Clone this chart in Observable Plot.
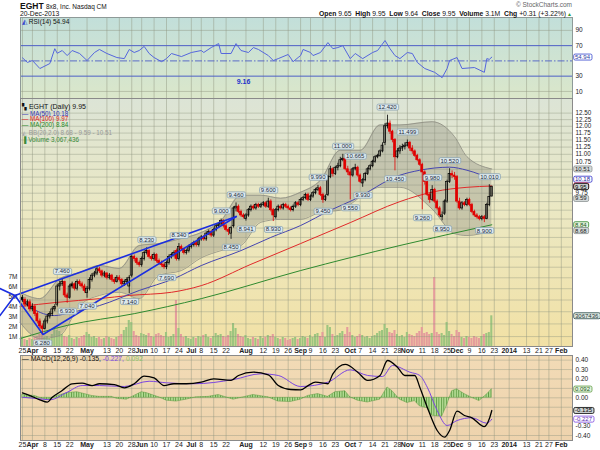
<!DOCTYPE html>
<html>
<head>
<meta charset="utf-8">
<script src="https://cdn.jsdelivr.net/npm/d3@7"></script>
<script src="https://cdn.jsdelivr.net/npm/@observablehq/plot@0.6"></script>
<style>
  html,body{margin:0;padding:0;background:#ffffff;}
  #wrap{position:relative;width:600px;height:450px;overflow:hidden;font-family:Arial,"Liberation Sans",Helvetica,sans-serif;font-size:7px;}
  #wrap svg{position:absolute;left:0;}
  .t{position:absolute;white-space:nowrap;line-height:1;color:#111;}
</style>
</head>
<body>
<div id="wrap"></div>
<script>
// ---------------- DATA ----------------
// trading-day index 0 = 25-Mar-2013 ... 189 = 20-Dec-2013
const closes = [7.00,6.90,6.95,6.80,6.85,6.70,6.55,6.45,6.40,6.55,
 6.65,6.70,6.80,6.85,7.30,7.35,7.40,7.10,7.05,7.30,
 7.35,7.25,7.40,7.35,7.30,7.20,7.25,7.45,7.55,7.60,
 7.70,7.65,7.55,7.60,7.50,7.55,7.45,7.40,7.50,7.45,
 7.35,7.40,7.45,7.50,8.00,7.95,7.85,7.80,7.95,8.10,
 8.15,8.00,7.95,8.05,7.90,7.85,7.80,7.75,7.85,8.00,
 8.05,8.10,7.95,8.25,8.20,8.10,8.15,8.25,8.30,8.35,
 8.30,8.45,8.50,8.45,8.60,8.65,8.55,8.70,8.80,8.85,
 8.95,8.80,8.70,8.65,8.75,9.30,9.35,9.20,9.10,9.05,
 9.10,9.25,9.35,9.30,9.40,9.35,9.40,9.45,9.35,9.50,
 9.25,9.10,9.25,9.35,9.30,9.40,9.35,9.30,9.25,9.35,
 9.45,9.40,9.55,9.60,9.70,9.55,9.65,9.75,9.85,9.90,
 9.70,9.55,9.65,10.25,10.50,10.35,10.55,10.60,10.80,10.85,
 10.50,10.40,10.30,10.50,10.55,10.30,10.10,10.15,10.35,10.50,
 10.60,10.75,10.90,10.95,11.10,11.30,12.00,12.10,11.80,11.50,
 10.90,11.10,11.20,11.25,11.30,11.40,11.20,11.10,10.95,10.80,
 10.65,10.40,10.10,9.70,9.55,9.85,9.50,9.30,9.10,9.10,
 9.50,10.10,10.35,10.30,10.25,9.50,9.30,9.45,9.40,9.55,
 9.40,9.20,9.10,9.05,9.00,9.05,9.00,9.40,9.64,9.95];
const opens = [7.05,7.00,6.90,6.95,6.80,6.85,6.70,6.55,6.45,6.40,
 6.55,6.65,6.70,6.80,6.90,7.30,7.35,7.40,7.10,7.05,
 7.30,7.35,7.25,7.40,7.35,7.30,7.15,7.25,7.45,7.55,
 7.60,7.70,7.65,7.55,7.60,7.50,7.55,7.45,7.40,7.50,
 7.45,7.35,7.40,7.30,7.55,8.00,7.95,7.85,7.80,7.95,
 8.10,8.15,8.00,7.95,8.05,7.90,7.85,7.80,7.75,7.85,
 8.00,8.05,8.15,7.95,8.25,8.20,8.10,8.15,8.25,8.30,
 8.35,8.30,8.45,8.50,8.45,8.60,8.65,8.55,8.70,8.80,
 8.85,8.95,8.80,8.70,8.60,8.80,9.30,9.35,9.20,9.10,
 9.00,9.10,9.25,9.35,9.30,9.40,9.35,9.40,9.45,9.35,
 9.50,9.25,9.05,9.25,9.35,9.30,9.40,9.35,9.30,9.25,
 9.35,9.45,9.40,9.55,9.60,9.70,9.55,9.65,9.75,9.85,
 9.90,9.70,9.55,9.70,10.25,10.50,10.35,10.55,10.60,10.80,
 10.85,10.50,10.40,10.30,10.50,10.55,10.30,10.05,10.15,10.35,
 10.50,10.60,10.75,10.90,10.95,11.10,11.40,12.00,12.10,11.80,
 11.50,10.90,11.10,11.20,11.25,11.30,11.40,11.20,11.10,10.95,
 10.80,10.65,10.40,10.10,9.70,9.55,9.85,9.50,9.30,9.05,
 9.15,9.50,10.10,10.35,10.30,10.25,9.50,9.30,9.45,9.40,
 9.55,9.40,9.20,9.10,9.05,9.00,9.05,9.00,9.40,9.65];
const highs = [7.10,7.05,7.00,7.00,6.92,6.90,6.75,6.60,6.50,6.60,
 6.70,6.75,6.85,6.90,7.35,7.42,7.46,7.42,7.15,7.35,
 7.40,7.38,7.45,7.45,7.40,7.35,7.30,7.50,7.60,7.65,
 7.75,7.75,7.68,7.65,7.62,7.60,7.58,7.50,7.55,7.55,
 7.48,7.45,7.50,7.55,8.05,8.05,7.98,7.90,8.00,8.15,
 8.23,8.18,8.05,8.10,8.08,7.95,7.90,7.85,7.90,8.05,
 8.10,8.15,8.20,8.34,8.30,8.22,8.20,8.30,8.35,8.40,
 8.40,8.50,8.55,8.55,8.65,8.70,8.68,8.75,8.85,8.90,
 9.00,8.98,8.85,8.75,8.80,9.35,9.46,9.40,9.25,9.15,
 9.15,9.30,9.40,9.40,9.45,9.45,9.45,9.50,9.50,9.60,
 9.55,9.30,9.30,9.40,9.40,9.45,9.45,9.40,9.35,9.40,
 9.50,9.50,9.60,9.65,9.75,9.75,9.70,9.80,9.90,9.99,
 9.95,9.75,9.70,10.30,10.60,10.55,10.60,10.70,10.90,11.00,
 10.90,10.60,10.50,10.55,10.665,10.60,10.35,10.20,10.40,10.55,
 10.65,10.80,10.95,11.00,11.15,11.40,12.10,12.42,12.20,11.85,
 11.55,11.20,11.30,11.35,11.40,11.499,11.45,11.30,11.15,11.00,
 10.85,10.70,10.45,10.15,9.75,9.98,9.90,9.55,9.35,9.20,
 9.55,10.15,10.52,10.45,10.40,10.30,9.60,9.50,9.50,9.60,
 9.60,9.45,9.25,9.15,9.10,9.10,9.10,9.45,10.01,9.95];
const lows = [6.95,6.85,6.85,6.75,6.75,6.65,6.50,6.40,6.28,6.38,
 6.50,6.60,6.65,6.75,6.85,7.20,7.30,7.05,6.93,7.02,
 7.25,7.20,7.20,7.30,7.25,7.15,7.04,7.20,7.40,7.50,
 7.55,7.60,7.50,7.50,7.45,7.45,7.40,7.35,7.38,7.40,
 7.30,7.30,7.35,7.14,7.50,7.88,7.80,7.75,7.75,7.90,
 8.05,7.95,7.90,7.90,7.85,7.80,7.75,7.70,7.69,7.80,
 7.95,8.00,7.90,7.90,8.15,8.05,8.05,8.10,8.20,8.25,
 8.25,8.25,8.40,8.40,8.40,8.55,8.50,8.50,8.65,8.75,
 8.80,8.75,8.65,8.55,8.45,8.75,9.20,9.15,9.05,9.00,
 8.941,9.05,9.20,9.25,9.25,9.30,9.30,9.35,9.30,9.30,
 9.20,8.93,9.00,9.20,9.25,9.25,9.30,9.25,9.20,9.20,
 9.30,9.35,9.35,9.50,9.55,9.50,9.50,9.60,9.70,9.80,
 9.65,9.45,9.50,9.65,10.20,10.25,10.30,10.45,10.55,10.75,
 10.45,10.30,9.55,10.25,10.45,10.25,10.05,9.93,10.10,10.30,
 10.45,10.55,10.70,10.85,10.90,11.05,11.30,11.90,11.70,11.40,
 10.45,10.85,11.00,11.10,11.15,11.25,11.10,11.00,10.90,10.75,
 10.60,9.26,10.00,9.65,9.45,9.50,9.45,9.25,9.05,8.95,
 9.10,9.45,10.05,10.20,10.15,9.45,9.25,9.25,9.35,9.35,
 9.35,9.15,9.05,9.00,8.95,8.95,8.90,8.98,9.35,9.64];
// volume in millions of shares
const volumes = [0.9,0.7,0.6,0.8,0.7,0.9,1.0,1.2,1.4,0.9,
 1.0,0.8,1.2,1.8,1.6,1.5,1.2,1.0,0.9,1.1,
 0.8,0.7,0.9,0.8,1.0,1.1,1.4,1.2,0.9,1.0,
 0.8,0.9,0.7,0.8,1.0,0.9,0.8,0.7,0.9,1.0,
 1.2,1.6,1.9,2.6,2.4,1.5,1.1,1.0,1.3,1.2,
 1.1,1.3,1.0,0.9,1.2,1.3,1.1,1.0,1.4,0.9,
 1.0,1.2,4.6,1.8,1.2,0.9,1.0,0.8,0.7,0.9,
 0.8,1.0,0.9,1.1,1.2,0.9,0.8,1.0,1.3,1.1,
 1.2,1.0,0.9,1.1,1.5,2.3,1.8,1.2,1.0,0.9,
 1.1,0.8,0.7,0.9,0.8,0.7,1.0,0.8,0.9,1.1,
 1.0,1.2,0.9,0.8,0.7,0.9,0.8,0.6,0.7,0.8,
 0.9,0.7,0.8,1.0,0.9,0.8,1.1,0.9,1.2,1.3,
 1.0,1.4,0.9,2.1,1.9,1.2,1.0,1.1,1.3,1.5,
 1.2,1.9,1.4,1.1,0.9,1.0,1.2,1.1,0.9,1.0,
 0.8,1.0,1.1,1.3,1.5,1.6,2.2,1.8,1.4,1.3,
 1.6,1.2,1.0,1.1,0.9,1.4,1.2,1.1,1.0,1.3,
 1.5,1.9,1.3,1.4,1.2,1.3,6.9,1.4,1.2,1.3,
 1.1,2.4,1.5,1.2,1.0,1.6,1.4,0.9,0.8,1.0,
 0.9,0.8,1.0,0.9,0.8,1.0,1.2,1.3,1.4,3.07];

// moving averages (sparse readings)
const ma50Idx = [-1,4,13,19,31,47,61,72,88,100,112,124,133,152,160,172,179,189];
const ma50Val = [7.03,6.82,6.67,6.73,6.88,7.21,7.48,7.79,8.16,8.50,8.82,9.25,9.54,10.31,10.47,10.57,10.47,10.18];
const ma100Idx = [-1,14,31,43,60,72,92,112,132,152,166,179,189];
const ma100Val = [6.86,6.95,7.03,7.10,7.17,7.32,7.82,8.34,8.90,9.50,9.80,9.93,9.97];
const ma200Idx = [-1,18,45,72,112,152,189];
const ma200Val = [6.21,6.47,6.71,7.03,7.67,8.29,8.84];
// Bollinger bands (20,2)
const bbIdx = [-1,7,15,23,31,39,47,55,64,72,80,88,96,104,112,120,128,136,144,152,165,174,179,189];
const bbUpper = [7.17,7.03,7.48,7.62,7.79,7.72,8.29,8.34,8.47,8.63,8.96,9.69,9.69,9.60,9.78,10.15,11.14,11.14,12.05,12.05,12.17,11.62,10.92,10.51];
const bbLower = [6.53,6.21,6.27,6.88,7.10,7.17,7.03,7.56,7.67,7.98,8.16,8.29,8.91,8.99,8.99,9.19,9.25,9.63,9.93,9.93,9.28,8.60,8.55,8.68];

// zig-zag annotations (1 = peak, 0 = trough)
const zzIdx = [8,16,18,26,43,50,58,63,80,84,86,90,99,101,119,121,129,132,134,137,147,150,155,161,165,169,172,186,188];
const zzVal = [6.28,7.46,6.93,7.04,7.14,8.23,7.69,8.34,9.0,8.45,9.46,8.941,9.6,8.93,9.99,9.45,11.0,9.55,10.665,9.93,12.42,10.45,11.499,9.26,9.98,8.95,10.52,8.9,10.01];
const zzPeak = [0,1,0,0,0,1,0,1,1,0,1,0,1,0,1,0,1,0,1,0,1,0,1,0,1,0,1,0,1];

// hand-drawn trend lines (index, price)
const trendAIdx = [-9.08,-3.03,86.1];
const trendAPx = [7.255,7.10,9.07];
const trendBIdx = [-9.08,-3.03,8.27,86.1];
const trendBPx = [6.67,7.10,6.29,9.07];

// RSI(14)
const rsiIdx = [0,2,4,7,11,13,14,16,18,20,23,26,29,31,34,38,41,43,45,47,49,51,53,56,58,60,64,68,72,73,76,79,80,84,86,88,91,93,95,99,101,103,107,109,111,112,113,116,117,120,123,125,127,129,132,134,137,141,143,146,148,150,152,155,157,159,162,166,169,171,172,175,177,182,186,187,188,189];
const rsiVal = [54,48,50.5,40,46.5,66,60,63.6,57,63.6,59.7,50.5,61,65,59.7,54.4,53,65,61,63.6,69,59.7,54.4,49,53,59.7,55.7,61,63.6,61,67.5,72.7,59.7,59.7,72.7,63.6,61,67.5,65,57,50.5,53,58.4,49,54.4,57,65,61,57,61,74,66,67.5,70,53,59.7,53,61,63.6,76.7,66,57,53,61,59.7,48,40,35,28,40,50.5,54.4,40,41.3,35,53,52,54.94];

// MACD(12,26,9)
const macdIdx = [0,3,7,10,12,16,20,24,28,31,37,41,45,49,53,57,61,66,72,77,84,87,93,99,103,108,112,115,118,123,125,130,135,139,144,147,151,154,158,160,163,167,170,172,175,178,181,186,188,189];
const macdVal = [0.053,0.024,-0.021,-0.046,0.006,0.077,0.149,0.155,0.13,0.149,0.141,0.106,0.149,0.23,0.212,0.13,0.149,0.149,0.166,0.2,0.184,0.237,0.272,0.244,0.13,0.088,0.085,0.13,0.166,0.149,0.255,0.354,0.272,0.184,0.237,0.396,0.325,0.237,0.237,0.113,-0.1,-0.347,-0.418,-0.347,-0.142,-0.188,-0.212,-0.305,-0.223,-0.135];
const sigIdx = [0,7,11,18,24,31,41,51,58,69,85,96,103,112,123,132,139,145,149,156,160,163,167,171,175,181,187,189];
const sigVal = [0.006,-0.011,-0.021,0.059,0.13,0.13,0.12,0.176,0.159,0.149,0.194,0.255,0.237,0.12,0.166,0.297,0.237,0.226,0.343,0.272,0.237,0.113,-0.135,-0.294,-0.241,-0.212,-0.27,-0.227];
const histIdx = [0,5,8,11,14,18,22,25,28,31,36,38,42,45,48,50,55,58,62,66,70,75,79,85,93,99,103,108,112,115,119,123,126,130,132,135,139,144,147,149,152,155,158,160,163,165,169,171,173,175,178,181,184,186,188,189];
const histVal = [0.03,0.02,-0.01,-0.02,0.02,0.05,0.06,0.04,0.02,0.01,0.01,-0.01,-0.02,0.02,0.06,0.05,0.005,-0.03,-0.04,-0.02,0.005,0.01,0.03,-0.02,0.03,0.005,-0.04,-0.045,-0.02,0.02,0.04,0.01,0.06,0.07,0.005,-0.03,-0.05,-0.02,0.11,0.07,-0.02,-0.055,-0.035,-0.09,-0.11,-0.19,-0.2,-0.08,0.07,0.09,0.04,0,-0.035,0.01,0.06,0.092];

// date axis ticks (trading-day index) and labels
const dayTicks = [0,9,14,19,34,39,44,53,58,63,72,77,82,97,102,107,116,121,126,136,141,146,151,161,166,171,180,185,190,203,208,212];
const dayLabels = ["25","8","15","22","13","20","28","10","17","24","8","15","22","12","19","26","9","16","23","7","14","21","28","11","18","25","9","16","23","13","21","27"];
const monthTicks = [4,26,48,68,90,112,132,155,175,196,217];
const monthLabels = ["Apr","May","Jun","Jul","Aug","Sep","Oct","Nov","Dec","2014","Feb"];

// value-axis ticks (grid) and the tick labels left visible beside the value tags
const rsiTicks = [10,30,50,70,90];
const rsiLabelTicks = [10,30,70,90];
const priceTicks = [6.25,6.5,6.75,7,7.25,7.5,7.75,8,8.25,8.5,8.75,9,9.25,9.5,9.75,10,10.25,10.5,10.75,11,11.25,11.5,11.75,12,12.25,12.5];
const priceLabelTicks = [6.25,6.5,7,7.25,7.5,7.75,8,8.25,8.5,9,9.25,9.75,10.75,11,11.25,11.5,11.75,12,12.25,12.5];
const volTicks = [1,2,3,4,5,6,7];
const macdTicks = [-0.4,-0.3,-0.2,-0.1,0,0.1,0.2,0.3,0.4];
const macdLabelTicks = [-0.4,-0.3,0,0.2,0.3,0.4];

// latest values shown in right-hand tags
const rsiLast = 54.94;
const bbLast = {lower: 8.68, mid: 9.59, upper: 10.51};
const ma50Last = 10.18, ma100Last = 9.97, ma200Last = 8.84, closeLast = 9.95;
const volLast = 3067436;
const macdLast = {macd: -0.135, signal: -0.227, hist: 0.092};

// ---------------- BUILD ----------------
const FONT = "Arial, 'Liberation Sans', Helvetica, sans-serif";
const GRID = "#8d947f";
const X_DOMAIN = [-0.8, 221.5];
const X_END = X_DOMAIN[1];

const rows = closes.map((c, i) => ({i, o: opens[i], h: highs[i], l: lows[i], c, v: volumes[i], up: i === 0 || c >= closes[i - 1]}));
const ccol = d => d.up ? "#000000" : "#e00000";
const pairs = (ix, vs) => ix.map((i, k) => ({i, v: vs[k]}));
const bbData = bbIdx.map((i, k) => ({i, hi: bbUpper[k], lo: bbLower[k]}));
const zzData = zzIdx.map((i, k) => ({i, v: zzVal[k], peak: zzPeak[k] === 1}));
const allTicks = dayTicks.concat(monthTicks);
const dayMap = new Map(dayTicks.map((d, k) => [d, dayLabels[k]]));
const monMap = new Map(monthTicks.map((d, k) => [d, monthLabels[k]]));

const wrap = document.getElementById("wrap");
function place(svg, top) { svg.style.top = top + "px"; wrap.appendChild(svg); return svg; }
function addDefs(svg, html) { d3.select(svg).insert("defs", ":first-child").html(html); }
function boxify(svg, key, fill, stroke) {
  d3.select(svg).selectAll(`g[aria-description="${key}"] text`).each(function () {
    const b = this.getBBox();
    const r = document.createElementNS("http://www.w3.org/2000/svg", "rect");
    r.setAttribute("x", b.x - 1.3); r.setAttribute("y", b.y);
    r.setAttribute("width", b.width + 2.6); r.setAttribute("height", b.height);
    r.setAttribute("rx", 1.5);
    r.setAttribute("fill", fill); r.setAttribute("stroke", stroke); r.setAttribute("stroke-width", 0.8);
    const t = this.getAttribute("transform"); if (t) r.setAttribute("transform", t);
    this.parentNode.insertBefore(r, this);
  });
}
function basePlot(height, marginBottom, yOpt, marks) {
  return Plot.plot({
    width: 600, height, marginLeft: 20, marginRight: 28, marginTop: 0, marginBottom,
    style: {background: "transparent", fontFamily: FONT, fontSize: "6.5px", color: "#1a1a1a", overflow: "visible"},
    x: {domain: X_DOMAIN, axis: null},
    y: {...yOpt, axis: null},
    color: {type: "identity"},
    marks
  });
}
const tagSpecs = [];
function tag(v, text, color, fill, stroke) {
  const key = "tag" + tagSpecs.length;
  tagSpecs.push({key, fill, stroke});
  return Plot.text([v], {x: X_END, y: d => d, text: () => text, textAnchor: "start", dx: 2.5, fontSize: 6, fill: color, ariaDescription: key});
}
function dateAxes() {
  return [
    Plot.axisX(dayTicks, {anchor: "bottom", tickSize: 0, tickPadding: 1.5, tickFormat: d => dayMap.get(d), fontSize: 7, label: null, fill: "#222"}),
    Plot.axisX(monthTicks, {anchor: "bottom", tickSize: 0, tickPadding: 1.5, tickFormat: d => monMap.get(d), fontSize: 7, fontWeight: "bold", label: null, fill: "#222"})
  ];
}
const gridXMark = () => Plot.gridX(allTicks, {stroke: GRID, strokeOpacity: 0.45, strokeWidth: 1});

// ---- RSI panel ----
const rsiSvg = basePlot(81, 0, {domain: [0.7, 106.9]}, [
  Plot.frame({fill: "url(#gRsi)", stroke: "none"}),
  gridXMark(),
  Plot.gridY([10, 90], {stroke: GRID, strokeOpacity: 0.45}),
  Plot.ruleY([30, 70], {stroke: "#4d5fc6", strokeWidth: 1}),
  Plot.ruleY([50], {stroke: "#4d5fc6", strokeWidth: 0.9, strokeDasharray: "7,2,1.5,2"}),
  Plot.line(pairs(rsiIdx, rsiVal), {x: "i", y: "v", stroke: "#5566dd", strokeWidth: 1}),
  Plot.axisY(rsiLabelTicks, {anchor: "right", tickSize: 0, tickPadding: 3, label: null, fontSize: 6.5}),
  Plot.text(["9.16"], {x: 89, y: 23, text: d => d, fill: "#2233cc", fontWeight: "bold", fontSize: 7}),
  tag(rsiLast, rsiLast.toFixed(2), "#2a3aa0", "#ffffff", "#3344cc"),
  Plot.frame({stroke: "#8e9a98"})
]);
addDefs(rsiSvg, `<linearGradient id="gRsi" x1="0" y1="0" x2="0" y2="1"><stop offset="0" stop-color="#c2dfda"/><stop offset="1" stop-color="#dbe7ca"/></linearGradient>`);
place(rsiSvg, 17);

// ---- Volume layer (under the price panel) ----
const volSvg = basePlot(257, 9, {domain: [0, 24.8]}, [
  Plot.frame({fill: "url(#gPrice)", stroke: "none"}),
  gridXMark(),
  Plot.rect(rows, {x1: d => d.i - 0.42, x2: d => d.i + 0.42, y1: 0, y2: "v", fill: d => d.up ? "#9dc57f" : "#e59c9c"}),
  Plot.axisY(volTicks, {anchor: "left", tickSize: 0, tickPadding: 3, tickFormat: d => d + "M", label: null, fontSize: 6.5}),
  tag(volLast / 1e6, String(volLast), "#1f3a3a", "#dfe9e2", "#2a4a4a")
]);
addDefs(volSvg, `<linearGradient id="gPrice" x1="0" y1="0" x2="0" y2="1"><stop offset="0" stop-color="#dce4d6"/><stop offset="0.45" stop-color="#ebe8c3"/><stop offset="1" stop-color="#f2e1a5"/></linearGradient>`);
place(volSvg, 98);

// ---- Price panel ----
const bodies = {x1: d => d.i - 0.4, x2: d => d.i + 0.4, y1: d => Math.min(d.o, d.c), y2: d => Math.max(d.o, d.c),
  fill: d => d.c < d.o ? ccol(d) : "none", stroke: ccol, strokeWidth: 0.7};
const priceSvg = basePlot(257, 9, {type: "log", domain: [6.06, 13.08]}, [
  Plot.gridY(priceTicks, {stroke: GRID, strokeOpacity: 0.4}),
  Plot.areaY(bbData, {x: "i", y1: "lo", y2: "hi", fill: "#8f8f82", fillOpacity: 0.38, curve: "monotone-x"}),
  Plot.line(bbData, {x: "i", y: "hi", stroke: "#8c8c80", strokeWidth: 0.8, curve: "monotone-x"}),
  Plot.line(bbData, {x: "i", y: "lo", stroke: "#8c8c80", strokeWidth: 0.8, curve: "monotone-x"}),
  Plot.line(pairs(ma200Idx, ma200Val), {x: "i", y: "v", stroke: "#2f8a2f", strokeWidth: 1, curve: "monotone-x"}),
  Plot.line(pairs(ma100Idx, ma100Val), {x: "i", y: "v", stroke: "#e02a2a", strokeWidth: 1, curve: "monotone-x"}),
  Plot.line(pairs(ma50Idx, ma50Val), {x: "i", y: "v", stroke: "#4545b0", strokeWidth: 1, curve: "monotone-x"}),
  Plot.ruleX(rows, {x: "i", y1: "l", y2: "h", stroke: ccol, strokeWidth: 0.8}),
  Plot.rect(rows, bodies),
  Plot.line(pairs(trendAIdx, trendAPx), {x: "i", y: "v", stroke: "#1b2ee0", strokeWidth: 1.6}),
  Plot.line(pairs(trendBIdx, trendBPx), {x: "i", y: "v", stroke: "#1b2ee0", strokeWidth: 1.6}),
  Plot.text(zzData.filter(d => d.peak), {x: "i", y: "v", text: d => d3.format(".3f")(d.v), dy: -8, fontSize: 6, fill: "#1c2c3c", ariaDescription: "zz"}),
  Plot.text(zzData.filter(d => !d.peak), {x: "i", y: "v", text: d => d3.format(".3f")(d.v), dy: 8, fontSize: 6, fill: "#1c2c3c", ariaDescription: "zz"}),
  Plot.axisY(priceLabelTicks, {anchor: "right", tickSize: 0, tickPadding: 3, tickFormat: d3.format(".2f"), label: null, fontSize: 6.3}),
  ...dateAxes(),
  tag(bbLast.upper, bbLast.upper.toFixed(2), "#222", "#d6dbdb", "#8a9090"),
  tag(ma50Last, ma50Last.toFixed(2), "#1c1c9a", "#ffffff", "#2a2ac8"),
  tag(ma100Last, ma100Last.toFixed(2), "#a01010", "#ffffff", "#e02020"),
  tag(closeLast, closeLast.toFixed(2), "#000", "#cfd4d4", "#000000"),
  tag(bbLast.mid, bbLast.mid.toFixed(2), "#222", "#d6dbdb", "#8a9090"),
  tag(ma200Last, ma200Last.toFixed(2), "#1a5a1a", "#e6f3de", "#2f8a2f"),
  tag(bbLast.lower, bbLast.lower.toFixed(2), "#222", "#d6dbdb", "#8a9090"),
  Plot.frame({stroke: "#8a8a8a"})
]);
place(priceSvg, 98);

// ---- MACD panel ----
const fmtM = d => d3.format(".2f")(d).replace("\u2212", "-");
const macdSvg = basePlot(95, 10, {domain: [-0.453, 0.449]}, [
  Plot.frame({fill: "url(#gMacd)", stroke: "none"}),
  gridXMark(),
  Plot.gridY(macdTicks, {stroke: GRID, strokeOpacity: 0.4}),
  Plot.areaY(pairs(histIdx, histVal), {x: "i", y1: 0, y2: "v", fill: "url(#hpat)", stroke: "#5d9a42", strokeWidth: 0.5}),
  Plot.line(pairs(sigIdx, sigVal), {x: "i", y: "v", stroke: "#7b45e0", strokeWidth: 1, curve: "monotone-x"}),
  Plot.line(pairs(macdIdx, macdVal), {x: "i", y: "v", stroke: "#000", strokeWidth: 1.3, curve: "monotone-x"}),
  Plot.axisY(macdLabelTicks, {anchor: "right", tickSize: 0, tickPadding: 3, tickFormat: fmtM, label: null, fontSize: 6.5}),
  ...dateAxes(),
  tag(macdLast.hist, macdLast.hist.toFixed(3), "#1a5a1a", "#e6f3de", "#5d9a42"),
  tag(macdLast.macd, macdLast.macd.toFixed(3), "#000", "#cfd4d4", "#000000"),
  tag(macdLast.signal, macdLast.signal.toFixed(3), "#5a2ab0", "#ffffff", "#7b45e0"),
  Plot.frame({stroke: "#8a8a8a"})
]);
addDefs(macdSvg, `<linearGradient id="gMacd" x1="0" y1="0" x2="0" y2="1"><stop offset="0" stop-color="#f2dbb6"/><stop offset="1" stop-color="#eed3ad"/></linearGradient>
<pattern id="hpat" patternUnits="userSpaceOnUse" x="21.3" y="0" width="2.483" height="20"><rect width="2.483" height="20" fill="#b3db93"/><rect width="0.9" height="20" fill="#5d9a42"/></pattern>`);
place(macdSvg, 355);

// boxes behind labels/tags
[rsiSvg, volSvg, priceSvg, macdSvg].forEach(svg => {
  boxify(svg, "zz", "#dce8ec", "#8ea6b2");
  tagSpecs.forEach(s => boxify(svg, s.key, s.fill, s.stroke));
});

// ---- text overlays (titles & legends) ----
function txt(html, css) {
  const d = document.createElement("div");
  d.className = "t"; d.innerHTML = html;
  Object.assign(d.style, css);
  wrap.appendChild(d);
}
txt('<b style="font-size:8.5px">EGHT</b> <span style="font-size:6.5px">8x8, Inc. Nasdaq CM</span>', {left: "20px", top: "2px", fontSize: "8.5px"});
txt('20-Dec-2013', {left: "20px", top: "11px", fontSize: "6.8px"});
txt('© StockCharts.com', {right: "28px", top: "1.5px", fontSize: "6.5px", color: "#666"});
txt('<b>Open</b> 9.65 &nbsp;<b>High</b> 9.95 &nbsp;<b>Low</b> 9.64 &nbsp;<b>Close</b> 9.95 &nbsp;<b>Volume</b> 3.1M &nbsp;<b>Chg</b> +0.31 (+3.22%)', {right: "34px", top: "11px", fontSize: "6.8px"});
txt('▲', {left: "567px", top: "12px", fontSize: "5px", color: "#2e9a2e"});
txt('<span style="color:#3344cc">◭</span> RSI(14) 54.94', {left: "22px", top: "19px", fontSize: "6.5px"});
txt('<span style="font-size:6px">▚</span> EGHT (Daily) 9.95', {left: "22px", top: "103px", fontSize: "7px"});
txt('— MA(50) 10.18', {left: "22px", top: "110.5px", fontSize: "6.3px", color: "#3535b5"});
txt('— MA(100) 9.97', {left: "22px", top: "116.3px", fontSize: "6.3px", color: "#e02020"});
txt('— MA(200) 8.84', {left: "22px", top: "122px", fontSize: "6.3px", color: "#2a8a2a"});
txt('<span style="color:#aaa">◭</span> BB(20,2.0) 8.68 - 9.59 - 10.51', {left: "22px", top: "130px", fontSize: "6.3px", color: "#9a9a9a"});
txt('▐ Volume 3,067,436', {left: "22px", top: "137px", fontSize: "6.3px", color: "#3a8a3a"});
txt('— MACD(12,26,9) -0.135, <span style="color:#7b45e0">-0.227,</span> <span style="color:#8cc46a">0.092</span>', {left: "22px", top: "356px", fontSize: "6.8px"});
</script>
</body>
</html>
